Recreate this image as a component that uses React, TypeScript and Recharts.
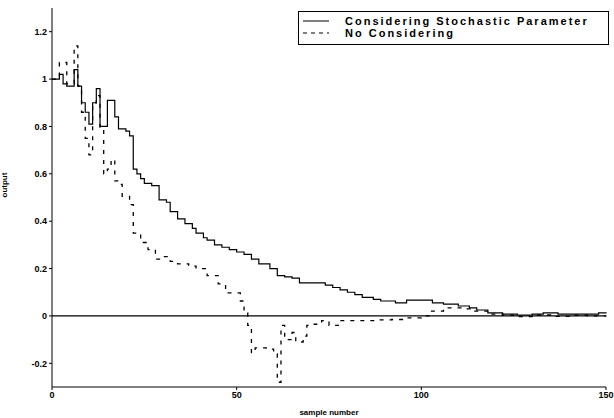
import {
  Line,
  LineChart,
  ReferenceLine,
  XAxis,
  YAxis,
} from "recharts";

// step points (sample number, output)
const stochasticX = [0, 2, 3, 4, 6, 7, 8, 9, 10, 11, 12, 13, 15, 17, 18, 20, 21, 22, 23, 24, 25, 27, 29, 31, 32, 34, 36, 38, 39, 41, 42, 44, 46, 48, 50, 52, 54, 56, 59, 61, 63, 65, 67, 72, 74, 76, 78, 80, 82, 84, 87, 89, 93, 96, 103, 106, 110, 113, 115, 118, 122, 126, 130, 133, 137, 144, 148, 150];
const stochasticY = [1.0, 1.02, 0.98, 0.97, 1.04, 0.97, 0.9, 0.86, 0.81, 0.9, 0.96, 0.8, 0.91, 0.84, 0.79, 0.78, 0.76, 0.62, 0.6, 0.58, 0.56, 0.55, 0.49, 0.48, 0.44, 0.41, 0.39, 0.37, 0.35, 0.33, 0.32, 0.3, 0.29, 0.28, 0.27, 0.26, 0.24, 0.22, 0.2, 0.17, 0.165, 0.16, 0.14, 0.14, 0.13, 0.12, 0.11, 0.1, 0.09, 0.078, 0.07, 0.063, 0.055, 0.067, 0.055, 0.05, 0.042, 0.034, 0.025, 0.013, 0.008, 0.004, 0.008, 0.013, 0.008, 0.008, 0.013, 0.01];

const plainX = [0, 2, 4, 6, 7, 8, 9, 10, 11, 12, 13, 14, 15, 16, 17, 18, 19, 21, 22, 24, 26, 28, 30, 32, 34, 37, 39, 42, 45, 47, 51, 52, 53, 54, 55, 58, 60, 61, 62, 63, 65, 66, 68, 69, 71, 73, 75, 78, 84, 88, 92, 96, 100, 102, 106, 111, 114, 118, 122, 126, 130, 135, 140, 145, 150];
const plainY = [1.0, 1.07, 0.98, 1.14, 0.97, 0.86, 0.75, 0.68, 0.9, 0.93, 0.79, 0.6, 0.62, 0.66, 0.57, 0.555, 0.505, 0.47, 0.35, 0.31, 0.28, 0.24, 0.25, 0.23, 0.22, 0.21, 0.2, 0.17, 0.135, 0.097, 0.063, 0.013, -0.04, -0.155, -0.135, -0.14, -0.16, -0.28, -0.04, -0.1, -0.07, -0.11, -0.085, -0.04, -0.035, -0.02, -0.04, -0.02, -0.02, -0.017, -0.015, -0.008, 0, 0.02, 0.034, 0.03, 0.02, 0.008, 0.003, -0.003, 0.004, -0.002, 0.003, 0, 0.002];

const xTicks = [0, 50, 100, 150];
const yTicks = [-0.2, 0, 0.2, 0.4, 0.6, 0.8, 1, 1.2];

const seriesNames = ["Considering Stochastic Parameter", "No Considering"];

const stochasticData = stochasticX.map((x, i) => ({ x, y: stochasticY[i] }));
const plainData = plainX.map((x, i) => ({ x, y: plainY[i] }));

const font = "'Liberation Sans', Arial, sans-serif";
const tickStyle = { fontSize: 9, fontWeight: 700, fill: "#000", fontFamily: font };

function LegendBox() {
  const dashes = ["", "4 4"];
  return (
    <div
      style={{
        position: "absolute",
        left: 298,
        top: 11,
        width: 309,
        border: "1px solid #000",
        background: "#fff",
        padding: "3px 0 5px 0",
        fontFamily: font,
        fontSize: 11,
        fontWeight: 700,
        letterSpacing: 2,
        lineHeight: "12px",
      }}
    >
      {seriesNames.map((name, i) => (
        <div key={name} style={{ display: "flex", alignItems: "center" }}>
          <svg width={46} height={12}>
            <line x1={4} x2={30} y1={6} y2={6} stroke="#000" strokeWidth={1} strokeDasharray={dashes[i]} />
          </svg>
          <span>{name}</span>
        </div>
      ))}
    </div>
  );
}

export default function App() {
  return (
    <div style={{ position: "absolute", left: 0, top: 0, width: 614, height: 418, background: "#fff" }}>
      <LineChart width={614} height={418} margin={{ top: 8, right: 8, left: 0, bottom: 1 }}>
        <XAxis
          type="number"
          dataKey="x"
          domain={[0, 150]}
          ticks={xTicks}
          allowDuplicatedCategory={false}
          stroke="#000"
          tickSize={3}
          tick={tickStyle}
          height={30}
          label={{ value: "sample number", position: "insideBottom", offset: 2, style: { ...tickStyle, fontSize: 8 } }}
        />
        <YAxis
          type="number"
          domain={[-0.3, 1.3]}
          ticks={yTicks}
          width={52}
          stroke="#000"
          tickSize={3}
          tick={tickStyle}
          tickFormatter={(v: number) => String(Math.round(v * 10) / 10)}
          label={{ value: "output", angle: -90, position: "insideLeft", offset: 4, style: { ...tickStyle, fontSize: 8 } }}
        />
        <ReferenceLine y={0} stroke="#000" strokeWidth={1.2} />
        <Line
          data={stochasticData}
          dataKey="y"
          name={seriesNames[0]}
          type="stepAfter"
          stroke="#000"
          strokeWidth={1.2}
          dot={false}
          isAnimationActive={false}
        />
        <Line
          data={plainData}
          dataKey="y"
          name={seriesNames[1]}
          type="stepAfter"
          stroke="#000"
          strokeWidth={1.3}
          strokeDasharray="4 6"
          dot={false}
          isAnimationActive={false}
        />
      </LineChart>
      <LegendBox />
    </div>
  );
}
